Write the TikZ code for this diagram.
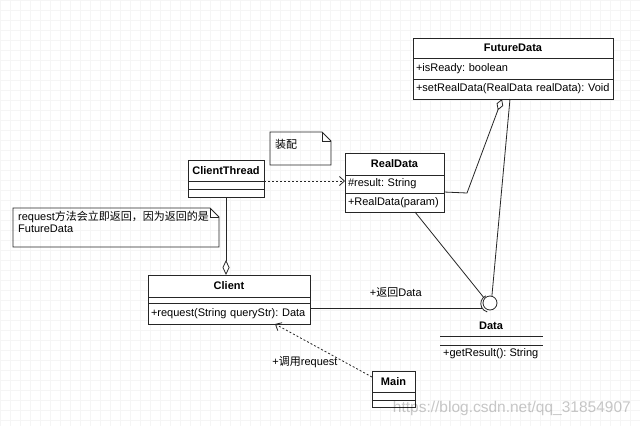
\documentclass[tikz,border=0pt]{standalone}
\usepackage{fontspec}
\setmainfont{Liberation Sans}
\newfontfamily\cjk{Noto Sans CJK SC}
\usetikzlibrary{arrows.meta}
\frenchspacing
\begin{document}
\begin{tikzpicture}[x=1pt,y=-1pt,
  font=\fontsize{11}{13}\selectfont,
  ln/.style={draw=black!85, line width=0.8pt},
  cell/.style={ln, fill=white, anchor=north west, inner xsep=3pt, inner ysep=0pt, outer sep=0pt},
  ttl/.style={cell, font=\fontsize{11}{13}\selectfont\bfseries},
  row/.style={cell, align=left},
  dashline/.style={dash pattern=on 2pt off 2pt},
  openv/.style={-{Straight Barb[length=5pt,width=9pt,line width=0.8pt]}},
  aggr/.style={-{Diamond[open,length=#1,width=7pt,line width=0.8pt]}},
  notetext/.style={anchor=north west, align=left, inner sep=0pt, font=\fontsize{11}{12}\selectfont}
]
\useasboundingbox (0,0) rectangle (640,426);
\fill[white] (0,0) rectangle (640,426);
\draw[step=10pt, black!4, line width=0.3pt] (0,0) grid (640,426);

% FutureData
\node[ttl, minimum width=200pt, minimum height=20pt] (fd1) at (413,38) {FutureData};
\node[row, text width=194pt, minimum height=21pt] (fd2) at (413,58) {\mbox{+isReady: boolean}};
\node[row, text width=194pt, minimum height=20pt] (fd3) at (413,79) {\mbox{+setRealData(RealData realData): Void}};

% RealData
\node[ttl, minimum width=99pt, minimum height=22pt] (rd1) at (345,153) {RealData};
\node[row, text width=93pt, minimum height=18pt] (rd2) at (345,175) {\mbox{\#result: String}};
\node[row, text width=93pt, minimum height=19pt] (rd3) at (345,193) {\mbox{+RealData(param)}};

% ClientThread
\node[ttl, minimum width=76pt, minimum height=21pt] (ct1) at (188,160) {ClientThread};
\node[cell, minimum width=76pt, minimum height=8pt] (ct2) at (188,181) {};
\node[cell, minimum width=76pt, minimum height=8pt] (ct3) at (188,189) {};

% Client
\node[ttl, minimum width=162pt, minimum height=22pt] (cl1) at (148,275) {Client};
\node[cell, minimum width=162pt, minimum height=6pt] (cl2) at (148,297) {};
\node[row, text width=156pt, minimum height=21pt] (cl3) at (148,303) {\mbox{+request(String queryStr): Data}};

% Main
\node[ttl, minimum width=43pt, minimum height=21pt] (mn1) at (372,371) {Main};
\node[cell, minimum width=43pt, minimum height=8pt] (mn2) at (372,392) {};
\node[cell, minimum width=43pt, minimum height=7pt] (mn3) at (372,400) {};

% Data interface (lollipop)
\node[circle, ln, fill=white, minimum size=14pt, inner sep=0pt] (ifc) at (490,303) {};
\draw[ln] ([shift={(-0.6pt,-0.6pt)}]ifc.center) ++(115:8.6pt) arc[start angle=115, end angle=255, radius=8.6pt];
\node[font=\fontsize{11}{13}\selectfont\bfseries] (dataT) at (491,326) {Data};
\coordinate (dA1) at (440,336); \coordinate (dA2) at (543,336);
\coordinate (dB1) at (440,345); \coordinate (dB2) at (543,345);
\draw[ln] (dA1) -- (dA2);
\draw[ln] (dB1) -- (dB2);
\node[anchor=west, inner sep=0pt] (getr) at (443,354) {+getResult(): String};

% Notes
\node[notetext] (n1) at (275,139) {\cjk 装配};
\draw[ln] (270,132) -- (322,132) -- (331,141) -- (331,165) -- (270,165) -- cycle;
\draw[ln] (322,132) -- (322,141) -- (331,141);

\node[notetext] (n2) at (18,211) {request{\cjk 方法会立即返回，因为返回的是}\\FutureData};
\draw[ln] (13,208) -- (210,208) -- (219,217) -- (219,247) -- (13,247) -- cycle;
\draw[ln] (210,208) -- (210,217) -- (219,217);

% Connectors
\draw[ln, dashline, openv] (ct1.south east) -- (ct1.south east -| rd1.west);
\draw[ln, aggr=15pt] (ct3.south) -- (ct3.south |- cl1.north);
\draw[ln] ([yshift=-5pt]cl3.north east) -- ([yshift=-5pt,xshift=-1pt]cl3.north east -| ifc.west)
  node[pos=0.5, above=10pt, inner sep=0pt] (lblret) {+{\cjk 返回}Data};
\draw[ln] ([xshift=20.5pt]rd3.south) -- (ifc.140);
\coordinate (bend1) at (467,193);
\draw[ln, aggr=12pt] ([yshift=-8pt]rd2.east) -- (bend1) -- ([xshift=-11pt]fd3.south);
\draw[ln] ([xshift=-3pt]fd3.south) -- (ifc.75);
\draw[ln, dashline, openv] ([yshift=-6pt]mn1.north west) -- ([xshift=46pt]cl3.south);
\node[inner sep=0pt] (lblcall) at (305,362) {+{\cjk 调用}request};

% watermark
\node[text=black, opacity=0.22, anchor=east, inner sep=0pt, font=\fontsize{15.5}{16}\selectfont] (wm) at (631,408) {https://blog.csdn.net/qq\_31854907};
\end{tikzpicture}
\end{document}
